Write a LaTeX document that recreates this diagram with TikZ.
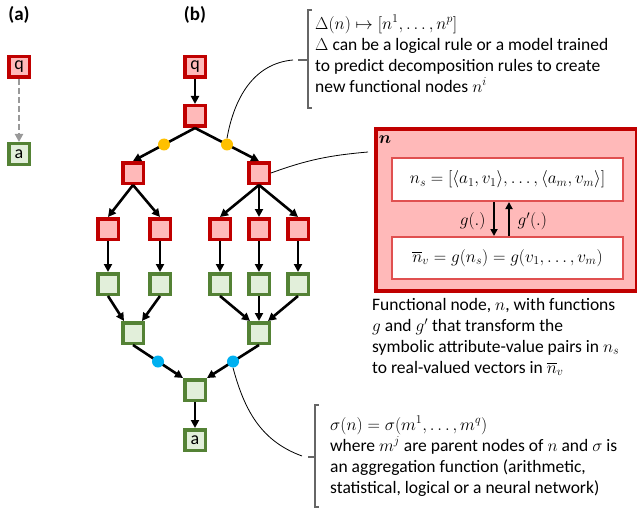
\documentclass[tikz,border=0pt]{standalone}
\usepackage{amsmath,amssymb}
\usepackage{fontspec}
\setmainfont{Carlito}
\usepackage{xcolor}
\usetikzlibrary{arrows.meta,positioning,calc}
\definecolor{nodered}{RGB}{192,0,0}
\definecolor{nodepink}{RGB}{255,185,185}
\definecolor{nodegreen}{RGB}{84,130,53}
\definecolor{lightgreen}{RGB}{226,239,218}
\definecolor{innerred}{RGB}{224,80,80}
\definecolor{dotyellow}{RGB}{255,192,0}
\definecolor{dotblue}{RGB}{0,176,240}

\begin{document}
\begin{tikzpicture}[x=1pt, y=-1pt,
        redbox/.style={draw=nodered, fill=nodepink, line width=3.5pt, minimum size=20.5pt, inner sep=0pt, font=\fontsize{18}{18}\selectfont},
        greenbox/.style={redbox, draw=nodegreen, fill=lightgreen},
        arrow/.style={-{Triangle[length=8pt, width=8pt]}, line width=2.6pt},
        joint/.style={circle, fill=#1, minimum size=12pt, inner sep=0pt},
        callout/.style={line width=0.8pt},
        bracket/.style={line width=1.2pt, draw=black!60},
        note/.style={anchor=north west, align=left, inner sep=0pt, font=\fontsize{17.5}{21}\selectfont},
        mathlab/.style={font=\fontsize{18.5}{18.5}\selectfont}
    ]
        \useasboundingbox (0,0) rectangle (637,508);

        % Panel labels
        \node[font=\bfseries\fontsize{19}{19}\selectfont] (la) at (19,15) {(a)};
        \node[font=\bfseries\fontsize{19}{19}\selectfont] (lb) at (195,15) {(b)};

        % (a) direct question to answer
        \node[redbox] (qa) at (19,67) {q};
        \node[greenbox] (aa) at (19,154) {a};
        \draw[arrow, black!40, line width=2.4pt, dash pattern=on 6pt off 3pt] (qa) -- (aa);

        % (b) decomposition tree
        \node[redbox] (q) at (195,67) {q};
        \node[redbox] (n1) at (195,116) {};
        \node[redbox] (n2L) at (133,173) {};
        \node[redbox] (n2R) at (259,173) {};
        \node[redbox] (r3a) at (108,229) {};
        \node[redbox] (r3b) at (160,229) {};
        \node[redbox] (r3c) at (220,229) {};
        \node[redbox] (r3d) at (259,229) {};
        \node[redbox] (r3e) at (298,229) {};

        % Aggregation
        \node[greenbox] (g4a) at (108,284) {};
        \node[greenbox] (g4b) at (160,284) {};
        \node[greenbox] (g4c) at (220,284) {};
        \node[greenbox] (g4d) at (259,284) {};
        \node[greenbox] (g4e) at (298,284) {};
        \node[greenbox] (g5a) at (133,333) {};
        \node[greenbox] (g5b) at (259,333) {};
        \node[greenbox] (g6) at (195,390) {};
        \node[greenbox] (a) at (195,440) {a};

        \draw[arrow] (q) -- (n1);
        \draw[arrow] (n1.south) -- (n2L.north);
        \draw[arrow] (n1.south) -- (n2R.north);
        \draw[arrow] (n2L.south) -- (r3a.north);
        \draw[arrow] (n2L.south) -- (r3b.north);
        \draw[arrow] (n2R.south) -- (r3c.north);
        \draw[arrow] (n2R.south) -- (r3d.north);
        \draw[arrow] (n2R.south) -- (r3e.north);
        \foreach \i in {a,b,c,d,e}
            \draw[arrow] (r3\i) -- (g4\i);
        \draw[arrow] (g4a.south) -- ([xshift=3pt]g5a.north west);
        \draw[arrow] (g4b.south) -- ([xshift=-3pt]g5a.north east);
        \draw[arrow] (g4c.south) -- ([xshift=3pt]g5b.north west);
        \draw[arrow] (g4d.south) -- (g5b.north);
        \draw[arrow] (g4e.south) -- ([xshift=-3pt]g5b.north east);
        \draw[arrow] (g5a.south) -- (g6.north west);
        \draw[arrow] (g5b.south) -- (g6.north east);
        \draw[arrow] (g6) -- (a);

        % Joints on the edges
        \node[joint=dotyellow] (y1) at ($(n1.south)!0.5!(n2L.north)$) {};
        \node[joint=dotyellow] (y2) at ($(n1.south)!0.5!(n2R.north)$) {};
        \node[joint=dotblue] (b1) at ($(g5a.south)!0.5!(g6.north west)$) {};
        \node[joint=dotblue] (b2) at ($(g5b.south)!0.5!(g6.north east)$) {};

        % Decomposition note
        \draw[bracket] (312,10) -- (308,10) -- (308,108) -- (312,108);
        \draw[bracket] (298,60) -- (308,60);
        \coordinate (t1) at (293,60);
        \draw[callout] (y2.north) to[out=80, in=185] (t1);
        \node[note] (dnote) at (315,15) {$\Delta(n) \mapsto [n^1, \dots, n^p]$\\
            $\Delta$ can be a logical rule or a model trained\\
            to predict decomposition rules to create\\
            new functional nodes $n^i$};

        % Functional node
        \node[draw=nodered, fill=nodepink, line width=4pt, minimum width=261pt, minimum height=162pt, anchor=north west, inner sep=0pt] (fn) at (374,127) {};
        \node[mathlab] (fnlab) at (385,140) {$\boldsymbol{n}$};
        \node[draw=innerred, fill=white, line width=2pt, minimum width=231pt, minimum height=43pt, mathlab] (ns) at (507.5,179.5) {$n_s = [\langle a_1, v_1\rangle, \dots, \langle a_m, v_m\rangle]$};
        \node[draw=innerred, fill=white, line width=2pt, minimum width=231pt, minimum height=42pt, mathlab] (nv) at (507.5,258) {$\overline{n}_v = g(n_s) = g(v_1, \dots, v_m)$};
        \draw[-{Triangle[length=7pt, width=7pt]}, line width=2pt] ([xshift=-13.5pt]ns.south) -- ([xshift=-13.5pt]nv.north);
        \draw[-{Triangle[length=7pt, width=7pt]}, line width=2pt] ([xshift=1.5pt]nv.north) -- ([xshift=1.5pt]ns.south);
        \node[mathlab, anchor=east] (glab) at (489,221) {$g(.)$};
        \node[mathlab, anchor=west] (gplab) at (514,221) {$g'(.)$};
        \coordinate (t2) at (368,152);
        \draw[callout] (n2R.east) to[out=20, in=185] (t2);
        \node[note] (fnote) at (372,298) {Functional node, $n$, with functions\\
            $g$ and $g'$ that transform the\\
            symbolic attribute-value pairs in $n_s$\\
            to real-valued vectors in $\overline{n}_v$};

        % Aggregation note
        \draw[bracket] (319,405) -- (315,405) -- (315,507) -- (319,507);
        \draw[bracket] (308,457) -- (315,457);
        \coordinate (t3) at (302,456);
        \draw[callout] (b2.south) to[out=-75, in=160] (t3);
        \node[note] (anote) at (330,416) {$\sigma(n) = \sigma(m^1, \dots, m^q)$\\
            where $m^j$ are parent nodes of $n$ and $\sigma$ is\\
            an aggregation function (arithmetic,\\
            statistical, logical or a neural network)};
    \end{tikzpicture}
\end{document}
